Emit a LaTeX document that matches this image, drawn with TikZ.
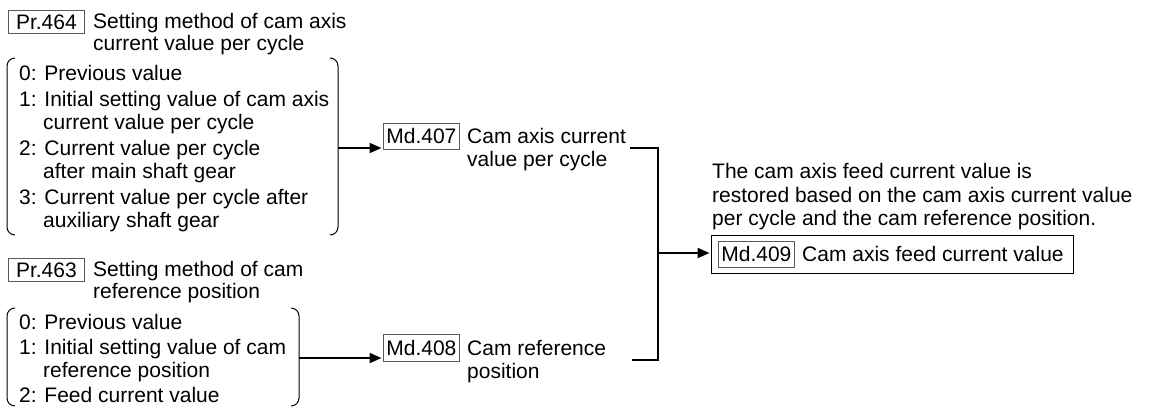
\documentclass[tikz,border=0pt]{standalone}
\usepackage{fontspec}
\setmainfont{Liberation Sans}
\usetikzlibrary{arrows.meta}
\begin{document}
\begin{tikzpicture}[x=1pt,y=-1pt,
  txt/.style={anchor=base west, inner sep=0pt, font=\fontsize{21}{23}\selectfont},
  tagbox/.style={draw=black!65, line width=0.8pt, inner sep=0pt, anchor=north west, font=\fontsize{21}{23}\selectfont},
  brk/.style={line width=1pt, rounded corners=8pt},
  conn/.style={line width=2pt},
  arr/.style={line width=2pt, -{Triangle[length=12pt,width=10pt]}, shorten >=1.5pt}]
\useasboundingbox (0,0) rectangle (1149,408);

% ---- Pr.464 group ----
\node[tagbox, minimum width=76pt, minimum height=23pt] (pr464) at (8,10) {Pr.464};
\node[txt] (t464a) at (93,28) {Setting method of cam axis};
\node[txt] (t464b) at (93,50) {current value per cycle};
\draw[brk] (15,58) -- (7,58) -- (7,235) -- (15,235);
\draw[brk] (330,58) -- (338,58) -- (338,235) -- (330,235);
\node[txt] (a0) at (19,80) {0: Previous value};
\node[txt] (a1) at (19,106) {1: Initial setting value of cam axis};
\node[txt] (a1b) at (43,129) {current value per cycle};
\node[txt] (a2) at (19,155) {2: Current value per cycle};
\node[txt] (a2b) at (43,178) {after main shaft gear};
\node[txt] (a3) at (19,204) {3: Current value per cycle after};
\node[txt] (a3b) at (43,227) {auxiliary shaft gear};
\coordinate (bra) at (338,148);

% ---- Pr.463 group ----
\node[tagbox, minimum width=76pt, minimum height=23pt] (pr463) at (8,258) {Pr.463};
\node[txt] (t463a) at (93,276) {Setting method of cam};
\node[txt] (t463b) at (93,298) {reference position};
\draw[brk] (15,308) -- (7,308) -- (7,406) -- (15,406);
\draw[brk] (291,308) -- (299,308) -- (299,406) -- (291,406);
\node[txt] (b0) at (19,329) {0: Previous value};
\node[txt] (b1) at (19,354) {1: Initial setting value of cam};
\node[txt] (b1b) at (43,377) {reference position};
\node[txt] (b2) at (19,402) {2: Feed current value};
\coordinate (brb) at (299,358);

% ---- Md.407 / Md.408 ----
\node[tagbox, minimum width=76pt, minimum height=26pt] (md407) at (383,123) {Md.407};
\node[txt] (t407a) at (467,143) {Cam axis current};
\node[txt] (t407b) at (467,166) {value per cycle};
\node[tagbox, minimum width=76pt, minimum height=27pt] (md408) at (383,334) {Md.408};
\node[txt] (t408a) at (467,355) {Cam reference};
\node[txt] (t408b) at (467,378) {position};

\draw[arr] (bra) -- (bra -| md407.west);
\draw[arr] (brb) -- (brb -| md408.west);

% ---- join ----
\coordinate (c407) at (630,148);
\coordinate (c408) at (632,360);
\coordinate (jn) at (658,253);
\draw[conn] (c407) -- (658,148) -- (658,360) -- (c408);

% ---- Md.409 ----
\node[txt] (p1) at (712,178) {The cam axis feed current value is};
\node[txt] (p2) at (712,202) {restored based on the cam axis current value};
\node[txt] (p3) at (712,225) {per cycle and the cam reference position.};
\node[draw, line width=1.3pt, inner sep=0pt, anchor=north west, minimum width=362pt, minimum height=38pt] (f409) at (711,235) {};
\node[tagbox, minimum width=76pt, minimum height=26pt] (md409) at (718,241) {Md.409};
\node[txt] (t409) at (802,261) {Cam axis feed current value};
\draw[arr] (jn) -- (jn -| f409.west);
\end{tikzpicture}
\end{document}
